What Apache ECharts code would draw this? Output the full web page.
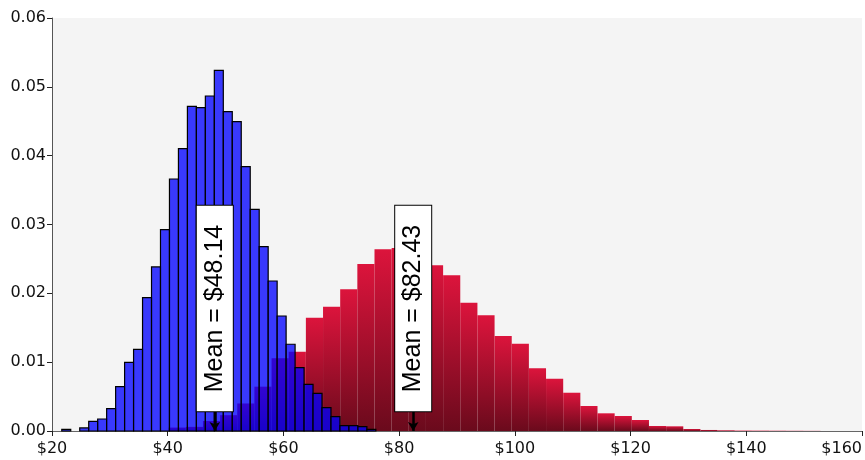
<!DOCTYPE html>
<html>
<head>
<meta charset="utf-8">
<script src="https://cdn.jsdelivr.net/npm/echarts@6/dist/echarts.min.js"></script>
<style>
html,body{margin:0;padding:0;background:#fff;}
#chart{width:865px;height:460px;}
</style>
</head>
<body>
<div id="chart"></div>
<script>
// ---- data ----
const xTicks = [20, 40, 60, 80, 100, 120, 140, 160];
const yTicks = [0, 0.01, 0.02, 0.03, 0.04, 0.05, 0.06];

// blue histogram: bin start ($), bin width ($), densities
const blueBinStart = 21.69;
const blueBinWidth = 1.551;
const blueDensity = [0.00025, 0, 0.00044, 0.0014, 0.00174, 0.00324, 0.00644, 0.00998, 0.01187, 0.01937,
  0.02383, 0.02925, 0.03661, 0.04102, 0.04717, 0.04697, 0.04867, 0.0524, 0.04639, 0.04494,
  0.0384, 0.03221, 0.02678, 0.02179, 0.01671, 0.0126, 0.0092, 0.00678, 0.00547, 0.00339,
  0.00208, 0.00077, 0.00077, 0.00063, 0.00024];

// red histogram
const redBinStart = 40.16;
const redBinWidth = 2.965;
const redDensity = [0.0005, 0.0006, 0.00145, 0.0023, 0.0040, 0.00644, 0.01056, 0.01152, 0.01646, 0.01806,
  0.02059, 0.02426, 0.0264, 0.0266, 0.0256, 0.02407, 0.02262, 0.01864, 0.01681, 0.0138,
  0.01268, 0.00911, 0.0076, 0.00556, 0.00363, 0.00257, 0.00218, 0.0016, 0.00073, 0.00068,
  0.00029, 0.00015, 0.0001, 0.00006, 0.00005, 0.00004, 0.00003, 0.00002];

const blueMean = 48.14;
const redMean = 82.43;
const labelY = 0.0178;     // centre of the annotation boxes (density units)
const arrowTop = 0.0028;   // bottom of the annotation boxes

// ---- build ----
function toBins(start, width, dens) {
  return dens.map((d, i) => [start + i * width, start + (i + 1) * width, d]);
}
const blueData = toBins(blueBinStart, blueBinWidth, blueDensity);
const redData = toBins(redBinStart, redBinWidth, redDensity);

function makeRender(styleFn) {
  return function (params, api) {
    const x0 = api.value(0), x1 = api.value(1), y = api.value(2);
    if (!(y > 0)) return null;
    const p0 = api.coord([x0, y]);
    const p1 = api.coord([x1, 0]);
    return {
      type: 'rect',
      shape: { x: p0[0], y: p0[1], width: p1[0] - p0[0], height: p1[1] - p0[1] },
      style: styleFn()
    };
  };
}

const redStyle = () => ({
  fill: new echarts.graphic.LinearGradient(0, 0, 0, 1, [
    { offset: 0, color: '#dc143c' },
    { offset: 1, color: '#6a0a1c' }
  ]),
  stroke: null
});
const blueStyle = () => ({
  fill: 'rgba(0,0,255,0.77)',
  stroke: '#000',
  lineWidth: 1.2
});

function meanLabel(v) { return 'Mean = $' + v.toFixed(2); }

const labelStyle = {
  show: true,
  position: 'inside',
  rotate: 90,
  formatter: p => p.name,
  fontFamily: 'Liberation Sans',
  fontSize: 25,
  lineHeight: 28,
  color: '#000',
  backgroundColor: '#fff',
  borderColor: '#000',
  borderWidth: 1,
  padding: [4, 19, 4, 19]
};

const chart = echarts.init(document.getElementById('chart'), null, { renderer: 'canvas' });
chart.setOption({
  animation: false,
  backgroundColor: '#fff',
  grid: {
    left: 52, right: 2, top: 18, bottom: 29,
    show: true, backgroundColor: '#f4f4f4', borderWidth: 0
  },
  xAxis: {
    type: 'value',
    min: xTicks[0], max: xTicks[xTicks.length - 1], interval: 20,
    splitLine: { show: false },
    axisLine: { show: true, lineStyle: { color: '#666', width: 1 } },
    axisTick: { show: true, length: 5, lineStyle: { color: '#222' } },
    axisLabel: {
      formatter: v => '$' + v,
      fontFamily: 'DejaVu Sans', fontSize: 16, color: '#111', margin: 10,
      alignMaxLabel: 'right'
    }
  },
  yAxis: {
    type: 'value',
    min: yTicks[0], max: yTicks[yTicks.length - 1], interval: 0.01,
    splitLine: { show: false },
    axisLine: { show: true, lineStyle: { color: '#555', width: 1 } },
    axisTick: { show: true, length: 5, lineStyle: { color: '#222' } },
    axisLabel: {
      formatter: v => v.toFixed(2),
      fontFamily: 'DejaVu Sans', fontSize: 16, color: '#111', margin: 6
    }
  },
  series: [
    {
      type: 'custom', name: 'red', z: 2,
      renderItem: makeRender(redStyle),
      encode: { x: [0, 1], y: 2 },
      data: redData
    },
    {
      type: 'custom', name: 'blue', z: 3,
      renderItem: makeRender(blueStyle),
      encode: { x: [0, 1], y: 2 },
      data: blueData
    },
    {
      type: 'scatter', name: 'marks', z: 10, data: [],
      markLine: {
        silent: true,
        symbol: ['none', 'arrow'],
        symbolSize: [8, 9],
        label: { show: false },
        lineStyle: { color: '#000', width: 2.5, type: 'solid' },
        data: [
          [{ coord: [blueMean, arrowTop] }, { coord: [blueMean, 0] }],
          [{ coord: [redMean, arrowTop] }, { coord: [redMean, 0] }]
        ]
      },
      markPoint: {
        silent: true,
        symbol: 'rect',
        symbolSize: [1, 1],
        itemStyle: { color: 'rgba(0,0,0,0)' },
        label: labelStyle,
        data: [
          { name: meanLabel(blueMean), coord: [blueMean, labelY] },
          { name: meanLabel(redMean), coord: [redMean, labelY] }
        ]
      }
    }
  ]
});
</script>
</body>
</html>
